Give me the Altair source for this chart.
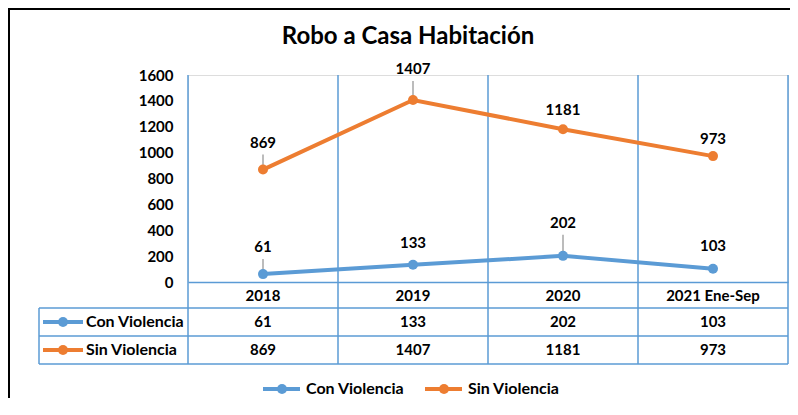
import altair as alt
import pandas as pd

# ---------------- data ----------------
categories = ["2018", "2019", "2020", "2021 Ene-Sep"]
series_names = ["Con Violencia", "Sin Violencia"]
con_violencia = [61, 133, 202, 103]
sin_violencia = [869, 1407, 1181, 973]
title_text = "Robo a Casa Habitación"
y_ticks = [0, 200, 400, 600, 800, 1000, 1200, 1400, 1600]

# label nudges (pixels above the point) and whether a leader line is drawn
label_nudge_px = [[27, 22, 33, 23], [27, 31, 19, 17]]
has_leader = [[True, False, True, False], [True, True, False, False]]

colors = ["#5B9BD5", "#ED7D31"]
GRID = "#5B9BD5"
FONT = "Lato"
NUM_FS = 15
TXT_FS = 16

W, H = 600, 207
YMAX = 1600
UNITS_PER_PX = YMAX / H

rows = []
for s, vals in zip(series_names, [con_violencia, sin_violencia]):
    si = series_names.index(s)
    for i, (c, v) in enumerate(zip(categories, vals)):
        n = label_nudge_px[si][i]
        rows.append({
            "series": s, "cat": c, "value": v,
            "lbl": v + n * UNITS_PER_PX,
            "lead_top": v + (n - 12) * UNITS_PER_PX,
            "lead_bot": v + 1 * UNITS_PER_PX,
            "leader": has_leader[si][i],
        })
df = pd.DataFrame(rows)
cat_df = pd.DataFrame({"cat": categories})
one = pd.DataFrame({"a": [0]})

x_axis = alt.Axis(title=None, domain=True, domainColor=GRID, domainWidth=1.5,
                  ticks=False, tickSize=0, grid=False, labelAngle=0,
                  labelFont=FONT, labelFontSize=NUM_FS, labelFontWeight="bold",
                  labelColor="#000000", labelBaseline="middle", labelPadding=13)
y_axis = alt.Axis(title=None, domain=False, ticks=False, tickSize=0, grid=False,
                  values=y_ticks, format="d", labelFont=FONT, labelFontSize=NUM_FS,
                  labelFontWeight="bold", labelColor="#000000", labelPadding=15)

x_scale = alt.Scale(type="band", domain=categories, paddingInner=0, paddingOuter=0)
y_scale = alt.Scale(domain=[0, YMAX], nice=False, zero=True)
color_scale = alt.Scale(domain=series_names, range=colors)

X = alt.X("cat:N", scale=x_scale, axis=x_axis, sort=categories)
Xb0 = alt.X("cat:N", scale=x_scale, axis=x_axis, sort=categories, bandPosition=0)

layers = []

# vertical grid / table column lines
layers.append(alt.Chart(cat_df).mark_rule(color=GRID, strokeWidth=1.5).encode(
    x=Xb0, y=alt.value(0), y2=alt.value(289)))
layers.append(alt.Chart(one).mark_rule(color=GRID, strokeWidth=1.5).encode(
    x=alt.value(W), y=alt.value(0), y2=alt.value(289)))
# table horizontal lines
for yy in [233, 261, 289]:
    layers.append(alt.Chart(one).mark_rule(color=GRID, strokeWidth=1.5).encode(
        x=alt.value(-149), x2=alt.value(W), y=alt.value(yy)))
layers.append(alt.Chart(one).mark_rule(color=GRID, strokeWidth=1.5).encode(
    x=alt.value(-149), y=alt.value(233), y2=alt.value(289)))

# leader lines
layers.append(alt.Chart(df).transform_filter("datum.leader").mark_rule(
    color="#A6A6A6", strokeWidth=1.5).encode(
    x=X, y=alt.Y("lead_top:Q", scale=y_scale, axis=y_axis), y2="lead_bot:Q"))

# series lines and points
layers.append(alt.Chart(df).mark_line(strokeWidth=4).encode(
    x=X, y=alt.Y("value:Q", scale=y_scale, axis=y_axis),
    color=alt.Color("series:N", scale=color_scale, legend=None),
    detail="series:N"))
layers.append(alt.Chart(df).mark_circle(size=100, opacity=1).encode(
    x=X, y=alt.Y("value:Q", scale=y_scale, axis=y_axis),
    color=alt.Color("series:N", scale=color_scale, legend=None)))

# data labels
layers.append(alt.Chart(df).mark_text(font=FONT, fontSize=NUM_FS, fontWeight="bold",
                                      color="#000000", baseline="middle").encode(
    x=X, y=alt.Y("lbl:Q", scale=y_scale, axis=y_axis), text="value:Q"))

# table rows + legend
row_y = [247, 275]
for si, s in enumerate(series_names):
    sdf = df[df.series == s]
    layers.append(alt.Chart(sdf).mark_text(font=FONT, fontSize=NUM_FS, fontWeight="bold",
                                           color="#000000", baseline="middle").encode(
        x=X, y=alt.value(row_y[si]), text="value:Q"))
    # row label symbol
    layers.append(alt.Chart(one).mark_rule(color=colors[si], strokeWidth=4).encode(
        x=alt.value(-145), x2=alt.value(-105), y=alt.value(row_y[si])))
    layers.append(alt.Chart(one).mark_circle(color=colors[si], size=100, opacity=1).encode(
        x=alt.value(-125), y=alt.value(row_y[si])))
    layers.append(alt.Chart(one).mark_text(font=FONT, fontSize=TXT_FS, fontWeight="bold",
                                           color="#000000", align="left",
                                           baseline="middle").encode(
        x=alt.value(-102), y=alt.value(row_y[si]), text=alt.value(s)))

# bottom legend
leg_x = [75, 237]
for si, s in enumerate(series_names):
    lx = leg_x[si]
    layers.append(alt.Chart(one).mark_rule(color=colors[si], strokeWidth=4).encode(
        x=alt.value(lx), x2=alt.value(lx + 37), y=alt.value(314)))
    layers.append(alt.Chart(one).mark_circle(color=colors[si], size=100, opacity=1).encode(
        x=alt.value(lx + 19), y=alt.value(314)))
    layers.append(alt.Chart(one).mark_text(font=FONT, fontSize=TXT_FS, fontWeight="bold",
                                           color="#000000", align="left",
                                           baseline="middle").encode(
        x=alt.value(lx + 43), y=alt.value(314), text=alt.value(s)))

# title
layers.append(alt.Chart(one).mark_text(font=FONT, fontSize=24, fontWeight="bold",
                                       color="#000000", align="center",
                                       baseline="alphabetic").encode(
    x=alt.value(220), y=alt.value(-31), text=alt.value(title_text)))

# outer frame (top and left edges)
layers.append(alt.Chart(one).mark_rule(color="#000000", strokeWidth=2).encode(
    x=alt.value(-180), x2=alt.value(610), y=alt.value(-66)))
layers.append(alt.Chart(one).mark_rule(color="#000000", strokeWidth=2).encode(
    x=alt.value(-179), y=alt.value(-67), y2=alt.value(340)))

chart = alt.layer(*layers).properties(
    width=W, height=H,
    autosize=alt.AutoSizeParams(type="none"),
    padding={"left": 180, "top": 67, "right": 2, "bottom": 116},
).configure_view(stroke=None).configure(background="#FFFFFF")

chart.save("out.html", embed_options={"renderer": "svg", "actions": False})
